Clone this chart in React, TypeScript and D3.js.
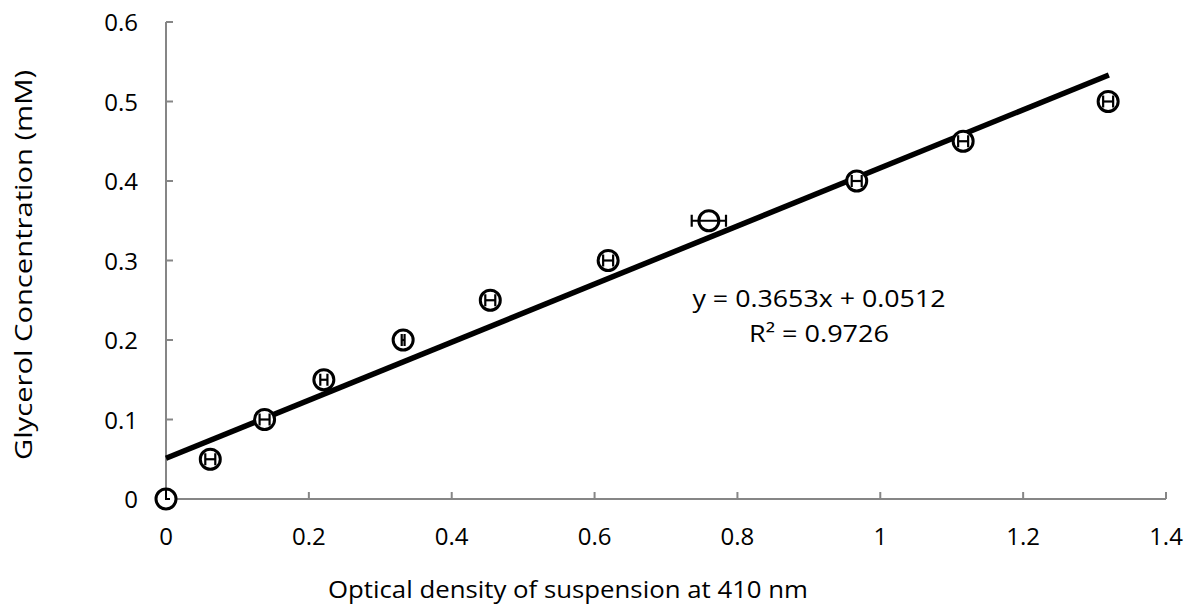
import React from "react";
import * as d3 from "d3";

const xValues = [0, 0.062, 0.138, 0.221, 0.332, 0.454, 0.619, 0.760, 0.967, 1.116, 1.319];
const yValues = [0, 0.05, 0.1, 0.15, 0.2, 0.25, 0.3, 0.35, 0.4, 0.45, 0.5];
const xErrors = [0, 0.007, 0.007, 0.005, 0.002, 0.007, 0.007, 0.024, 0.007, 0.007, 0.007];
const xTicks = [0, 0.2, 0.4, 0.6, 0.8, 1, 1.2, 1.4];
const yTicks = [0, 0.1, 0.2, 0.3, 0.4, 0.5, 0.6];
const slope = 0.3653;
const intercept = 0.0512;
const equationLines = ["y = 0.3653x + 0.0512", "R² = 0.9726"];
const xTitle = "Optical density of suspension at 410 nm";
const yTitle = "Glycerol Concentration (mM)";

export default function App() {
  const W = 1187, H = 607;
  const x = d3.scaleLinear().domain([0, 1.4]).range([166, 1166]);
  const y = d3.scaleLinear().domain([0, 0.6]).range([499, 22]);
  const font = "'Open Sans', sans-serif";
  const axisColor = "#868686";
  const line = d3.line<number>().x((d) => x(d)).y((d) => y(slope * d + intercept));
  const trendX = [0, 1.32];
  return (
    <svg width={W} height={H} style={{ position: "absolute", left: 0, top: 0, background: "#fff" }}>
      {/* axes */}
      <line x1={x(0)} x2={x(1.4)} y1={y(0)} y2={y(0)} stroke={axisColor} strokeWidth={2} />
      <line x1={x(0)} x2={x(0)} y1={y(0)} y2={y(0.6)} stroke={axisColor} strokeWidth={2} />
      {xTicks.map((t) => (
        <g key={"xt" + t}>
          <line x1={x(t)} x2={x(t)} y1={y(0)} y2={y(0) - 7} stroke={axisColor} strokeWidth={2} />
          <text x={x(t)} y={545} textAnchor="middle" fontFamily={font} fontSize={24} fill="#000">
            {String(t)}
          </text>
        </g>
      ))}
      {yTicks.map((t) => (
        <g key={"yt" + t}>
          <line x1={x(0)} x2={x(0) + 7} y1={y(t)} y2={y(t)} stroke={axisColor} strokeWidth={2} />
          <text x={138} y={y(t) + 9} textAnchor="end" fontFamily={font} fontSize={24} fill="#000">
            {String(t)}
          </text>
        </g>
      ))}
      <text x={568} y={598} textAnchor="middle" fontFamily={font} fontSize={24} fill="#000"
        textLength={480} lengthAdjust="spacingAndGlyphs">
        {xTitle}
      </text>
      <text
        transform={`translate(32,${265}) rotate(-90)`}
        textAnchor="middle"
        fontFamily={font}
        fontSize={24}
        fill="#000"
        textLength={390}
        lengthAdjust="spacingAndGlyphs"
      >
        {yTitle}
      </text>
      {/* trendline */}
      <path d={line(trendX) || ""} stroke="#000" strokeWidth={5.5} fill="none" />
      {/* markers */}
      {xValues.map((xv, i) => {
        const cx = x(xv), cy = y(yValues[i]);
        const x0 = x(xv - xErrors[i]), x1 = x(xv + xErrors[i]);
        return (
          <g key={"p" + i}>
            <circle cx={cx} cy={cy} r={10} fill="#fff" stroke="#000" strokeWidth={3} />
            {xErrors[i] > 0 ? (
              <g>
                <line x1={x0} x2={x1} y1={cy} y2={cy} stroke="#000" strokeWidth={2.2} />
                <line x1={x0} x2={x0} y1={cy - 6} y2={cy + 6} stroke="#000" strokeWidth={2.2} />
                <line x1={x1} x2={x1} y1={cy - 6} y2={cy + 6} stroke="#000" strokeWidth={2.2} />
              </g>
            ) : (
              <path d={`M${cx},${cy - 9}V${cy}H${cx + 4}`} stroke="#000" strokeWidth={2} fill="none" />
            )}
          </g>
        );
      })}
      {equationLines.map((s, i) => (
        <text key={"eq" + i} x={819} y={307 + i * 35} textAnchor="middle" fontFamily={font} fontSize={24} fill="#000"
          textLength={i === 0 ? 253 : 140} lengthAdjust="spacingAndGlyphs">
          {s}
        </text>
      ))}
    </svg>
  );
}
